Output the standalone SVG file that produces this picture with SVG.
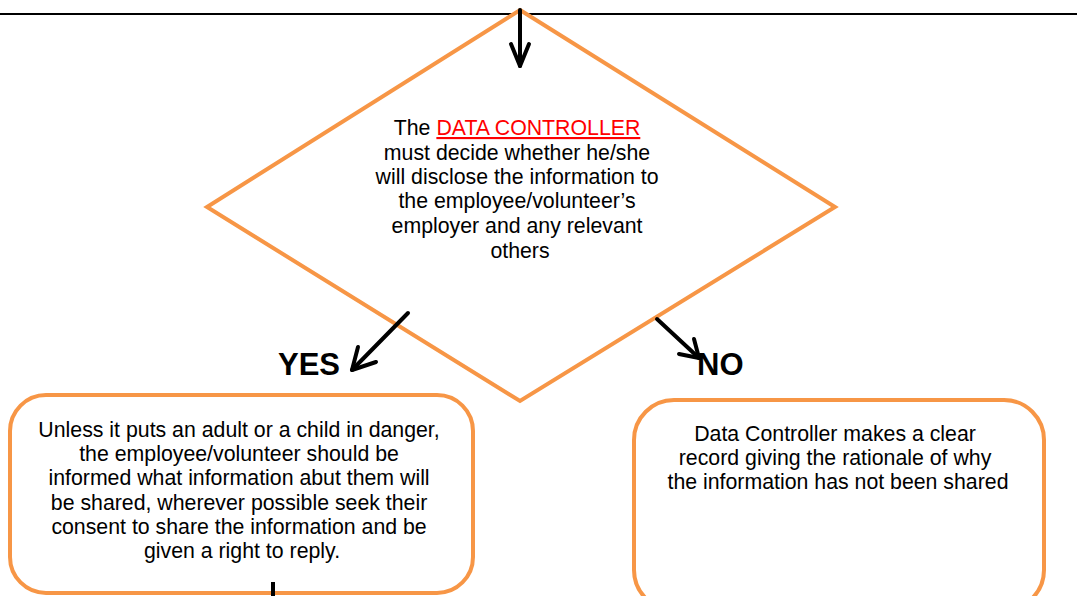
<svg xmlns="http://www.w3.org/2000/svg" width="1077" height="596" viewBox="0 0 1077 596">
  <style>
    .shape { fill: #ffffff; stroke: #F79646; stroke-width: 4; }
    .txt { font-family: "Liberation Sans", Arial, sans-serif; font-size: 21.3px; fill: #000000; text-anchor: middle; }
    .lbl { font-family: "Liberation Sans", Arial, sans-serif; font-size: 31px; font-weight: bold; fill: #000000; }
    .red { fill: #FF0000; text-decoration: underline; }
    .conn { fill: none; stroke: #000000; stroke-width: 4; stroke-linecap: round; stroke-linejoin: round; }
  </style>
  <rect width="1077" height="596" fill="#ffffff"/>
  <!-- top rule -->
  <line x1="0" y1="14" x2="1077" y2="14" stroke="#000000" stroke-width="2"/>

  <g id="decision">
    <polygon class="shape" points="520,10 835,207 520,401 207,207"/>
    <text class="txt" x="520">
      <tspan x="520" y="135">The <tspan class="red">DATA CONTROLLER</tspan></tspan>
      <tspan x="520" y="160">must decide whether he/she</tspan>
      <tspan x="520" y="184">will disclose the information to</tspan>
      <tspan x="520" y="208">the employee/volunteer’s</tspan>
      <tspan x="520" y="233">employer and any relevant</tspan>
      <tspan x="520" y="258">others</tspan>
    </text>
  </g>

  <g id="yes-box">
    <rect class="shape" x="10" y="395" width="463" height="198" rx="36"/>
    <text class="txt">
      <tspan x="242" y="437">Unless it puts an adult or a child in danger,</tspan>
      <tspan x="242" y="461">the employee/volunteer should be</tspan>
      <tspan x="242" y="485">informed what information abut  them will</tspan>
      <tspan x="242" y="510">be shared, wherever possible seek their</tspan>
      <tspan x="242" y="534">consent to share the information and be</tspan>
      <tspan x="242" y="558">given a right to reply.</tspan>
    </text>
  </g>

  <g id="no-box">
    <rect class="shape" x="634" y="400" width="410" height="210" rx="40"/>
    <text class="txt">
      <tspan x="838" y="441">Data Controller makes a clear</tspan>
      <tspan x="838" y="465">record giving the rationale of why</tspan>
      <tspan x="838" y="489">the information has not been shared</tspan>
    </text>
  </g>

  <g id="labels">
    <text class="lbl" x="278" y="375">YES</text>
    <text class="lbl" x="697" y="375">NO</text>
  </g>

  <g id="connectors">
    <!-- entry arrow -->
    <line class="conn" x1="520" y1="10" x2="520" y2="66"/>
    <polyline class="conn" points="511,44 520,66 529,44"/>
    <!-- yes branch -->
    <line class="conn" x1="408" y1="313" x2="352" y2="370"/>
    <polyline class="conn" points="358,347 352,370 376,362"/>
    <!-- no branch -->
    <line class="conn" x1="657" y1="319" x2="699" y2="358"/>
    <polyline class="conn" points="694,339 699,358 679,354"/>
    <!-- continuation below yes box -->
    <line x1="273" y1="582" x2="273" y2="596" stroke="#000000" stroke-width="4"/>
  </g>
</svg>
